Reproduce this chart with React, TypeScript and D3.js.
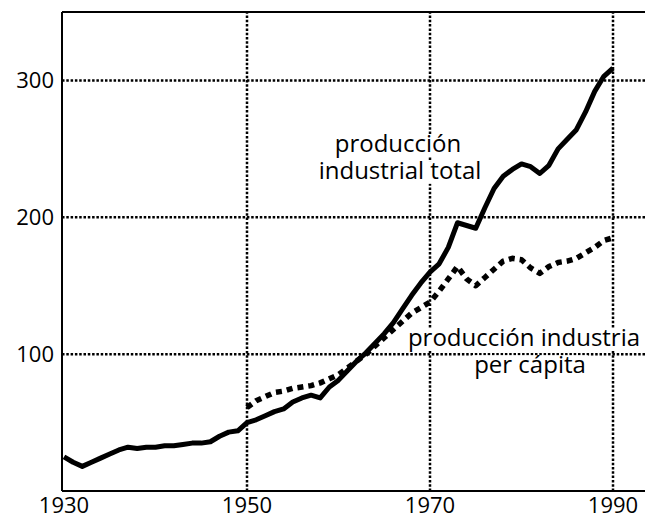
import { useLayoutEffect, useMemo, useRef, useState } from "react";
import * as d3 from "d3";

const totalYears = d3.range(1930, 1991);
const totalValues = [
  25, 21, 18, 21, 24, 27, 30, 32, 31, 32,
  32, 33, 33, 34, 35, 35, 36, 40, 43, 44,
  50, 52, 55, 58, 60, 65, 68, 70, 68, 76,
  81, 88, 95, 101, 108, 115, 123, 133, 143, 152,
  160, 166, 178, 196, 194, 192, 207, 221, 230, 235,
  239, 237, 232, 238, 250, 257, 264, 277, 292, 303,
  309
];

const perCapitaYears = d3.range(1950, 1991);
const perCapitaValues = [
  61, 66, 69, 72, 73, 75, 76, 77, 79, 82,
  85, 90, 95, 100, 106, 112, 118, 124, 130, 134,
  138, 146, 155, 164, 155, 150, 156, 162, 168, 170,
  169, 163, 159, 164, 167, 168, 170, 174, 178, 183,
  185
];

const xTicks = [1930, 1950, 1970, 1990];
const yTicks = [100, 200, 300];

const width = 645;
const height = 518;
const FONT = "'Open Sans', Lato, sans-serif";
const LABEL_SIZE = 24;

// label line with a tight white knockout behind it (hides the grid, as in print)
function Label({ x, y, text }: { x: number; y: number; text: string }) {
  const ref = useRef<SVGTextElement>(null);
  const [w, setW] = useState(0);
  useLayoutEffect(() => {
    if (ref.current) setW(ref.current.getComputedTextLength());
  }, [text]);
  return (
    <g>
      {w > 0 && (
        <rect
          x={x - w / 2 - 2}
          y={y - LABEL_SIZE * 0.74}
          width={w + 4}
          height={LABEL_SIZE * 0.94}
          fill="#fff"
        />
      )}
      <text ref={ref} x={x} y={y} textAnchor="middle" fontSize={LABEL_SIZE}>
        {text}
      </text>
    </g>
  );
}

export default function App() {
  const x = d3.scaleLinear().domain([1930, 1990]).range([64, 613]);
  const y = d3.scaleLinear().domain([0, 350]).range([491, 12]);
  const left = 62;
  const right = 645;

  const line = d3
    .line<[number, number]>()
    .x(d => x(d[0]))
    .y(d => y(d[1]))
    .curve(d3.curveLinear);

  const totalPath = useMemo(
    () => line(totalYears.map((yr, i) => [yr, totalValues[i]])),
    []
  );
  const perCapitaPath = useMemo(
    () => line(perCapitaYears.map((yr, i) => [yr, perCapitaValues[i]])),
    []
  );

  return (
    <svg
      width={width}
      height={height}
      style={{ position: "absolute", left: 0, top: 0, background: "#fff" }}
      fontFamily={FONT}
    >
      {/* dotted grid */}
      {yTicks.map(t => (
        <line
          key={`gy${t}`}
          x1={left}
          x2={right}
          y1={y(t)}
          y2={y(t)}
          stroke="#000"
          strokeWidth={2.5}
          strokeDasharray="2.5 1.8"
        />
      ))}
      {xTicks.slice(1).map(t => (
        <line
          key={`gx${t}`}
          x1={x(t)}
          x2={x(t)}
          y1={y(0)}
          y2={y(350)}
          stroke="#000"
          strokeWidth={2.5}
          strokeDasharray="2.5 1.8"
        />
      ))}

      {/* frame: left, top, bottom */}
      <line x1={left} x2={left} y1={y(350)} y2={y(0)} stroke="#000" strokeWidth={2} />
      <line x1={left} x2={right} y1={y(350)} y2={y(350)} stroke="#000" strokeWidth={2} />
      <line x1={left} x2={right} y1={y(0)} y2={y(0)} stroke="#000" strokeWidth={2} />

      {/* annotations */}
      <Label x={398} y={152} text="producción" />
      <Label x={400} y={179} text="industrial total" />
      <Label x={524} y={346} text="producción industria" />
      <Label x={530} y={373} text="per cápita" />

      {/* series */}
      <path
        d={perCapitaPath ?? ""}
        fill="none"
        stroke="#000"
        strokeWidth={5.5}
        strokeDasharray="6 5"
        strokeLinejoin="round"
      />
      <path
        d={totalPath ?? ""}
        fill="none"
        stroke="#000"
        strokeWidth={5}
        strokeLinejoin="round"
      />

      {/* tick labels */}
      {yTicks.map(t => (
        <text
          key={`ty${t}`}
          x={left - 8}
          y={y(t)}
          dy="0.36em"
          textAnchor="end"
          fontSize={22}
        >
          {t}
        </text>
      ))}
      {xTicks.map(t => (
        <text key={`tx${t}`} x={x(t)} y={513} textAnchor="middle" fontSize={22}>
          {t}
        </text>
      ))}
    </svg>
  );
}
